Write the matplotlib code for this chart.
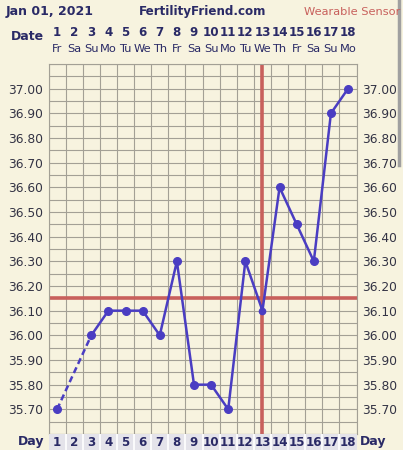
import matplotlib.pyplot as plt
import matplotlib.transforms as mtransforms
import numpy as np

# === CHART DATA ===
days = list(range(1, 19))
weekdays = ["Fr", "Sa", "Su", "Mo", "Tu", "We", "Th", "Fr", "Sa",
            "Su", "Mo", "Tu", "We", "Th", "Fr", "Sa", "Su", "Mo"]
temps = [35.70, None, 36.00, 36.10, 36.10, 36.10, 36.00, 36.30, 35.80,
         35.80, 35.70, 36.30, 36.10, 36.60, 36.45, 36.30, 36.90, 37.00]
y_labels = [35.70, 35.80, 35.90, 36.00, 36.10, 36.20, 36.30, 36.40,
            36.50, 36.60, 36.70, 36.80, 36.90, 37.00]
coverline = 36.15
ovulation_day = 13

BG = "#f7f3df"
NAVY = "#2a2a66"
LINE = "#4a3dc2"
RED = "#c8605c"
GRID = "#a3a095"

W, H = 403, 450
fig = plt.figure(figsize=(W / 100, H / 100), dpi=100, facecolor=BG)


def fx(px):
    return px / W


def fy(py):
    return 1 - py / H


left, right, top, bottom = 48.5, 356.6, 64, 434
ax = fig.add_axes([fx(left), fy(bottom), fx(right - left), (bottom - top) / H])
ax.set_facecolor(BG)
ax.set_xlim(0.5, 18.5)
ax.set_ylim(35.60, 37.10)

# grid
for x in np.arange(0.5, 19, 1):
    ax.axvline(x, color=GRID, lw=0.8, zorder=1)
for y in np.arange(35.60, 37.11, 0.05):
    ax.axhline(y, color=GRID, lw=0.8, zorder=1)
for s in ax.spines.values():
    s.set_color(GRID)
    s.set_linewidth(0.8)

# coverline + ovulation line
ax.axhline(coverline, color=RED, lw=2.6, zorder=2)
ax.axvline(ovulation_day, color=RED, lw=2.6, zorder=2)

# temperature line (dashed across the missing day)
x_all = [d for d, t in zip(days, temps) if t is not None]
y_all = [t for t in temps if t is not None]
ax.plot(x_all[:2], y_all[:2], color=LINE, lw=1.8, ls=(0, (2.5, 1.5)), zorder=3)
ax.plot(x_all[1:], y_all[1:], color=LINE, lw=1.8, zorder=3)
for d, t in zip(x_all, y_all):
    ms = 4.5 if d == ovulation_day else 5.5
    ax.plot(d, t, "o", color=LINE, ms=ms, zorder=4)

# y labels on both sides
ax.set_xticks([])
ax.set_yticks(y_labels)
ax.set_yticklabels([f"{v:.2f}" for v in y_labels])
ax.tick_params(axis="y", length=0, labelsize=8.8, labelcolor="#333344",
               left=True, right=True, labelleft=True, labelright=True, pad=4)

# top date rows
tr = mtransforms.blended_transform_factory(ax.transData, fig.transFigure)
for d, wd in zip(days, weekdays):
    ax.text(d, fy(33), str(d), transform=tr, ha="center", va="center",
            fontsize=8.6, fontweight="bold", color=NAVY)
    ax.text(d, fy(49), wd, transform=tr, ha="center", va="center",
            fontsize=8.2, color=NAVY)
fig.text(fx(44), fy(36), "Date", ha="right", va="center", fontsize=9,
         fontweight="bold", color=NAVY)

# title row
fig.text(fx(6), fy(12), "Jan 01, 2021", ha="left", va="center",
         fontsize=9, fontweight="bold", color=NAVY)
fig.text(fx(203), fy(12), "FertilityFriend.com", ha="center", va="center",
         fontsize=8.6, fontweight="bold", color=NAVY)
fig.text(fx(400), fy(12), "Wearable Sensor", ha="right", va="center",
         fontsize=8.2, color=RED)

# bottom day row
dax = fig.add_axes([fx(left), 0, fx(right - left), (H - bottom) / H])
dax.set_xlim(0.5, 18.5)
dax.set_ylim(0, 1)
dax.set_facecolor("#e4e3ea")
for x in np.arange(1.5, 18.5, 1):
    dax.axvline(x, color="white", lw=1.2)
for s in dax.spines.values():
    s.set_visible(False)
dax.set_xticks([])
dax.set_yticks([])
for d in days:
    dax.text(d, 0.45, str(d), ha="center", va="center", fontsize=8.6,
             fontweight="bold", color=NAVY)
fig.text(fx(44), fy(442), "Day", ha="right", va="center", fontsize=9,
         fontweight="bold", color=NAVY)
fig.text(fx(360), fy(442), "Day", ha="left", va="center", fontsize=9,
         fontweight="bold", color=NAVY)

# scrollbar at right edge
fig.add_artist(plt.Line2D([fx(398.5), fx(398.5)], [fy(0), fy(165)],
                          color="#a0a0a0", lw=2.5))

plt.savefig("out.png", dpi=100, facecolor=BG)
